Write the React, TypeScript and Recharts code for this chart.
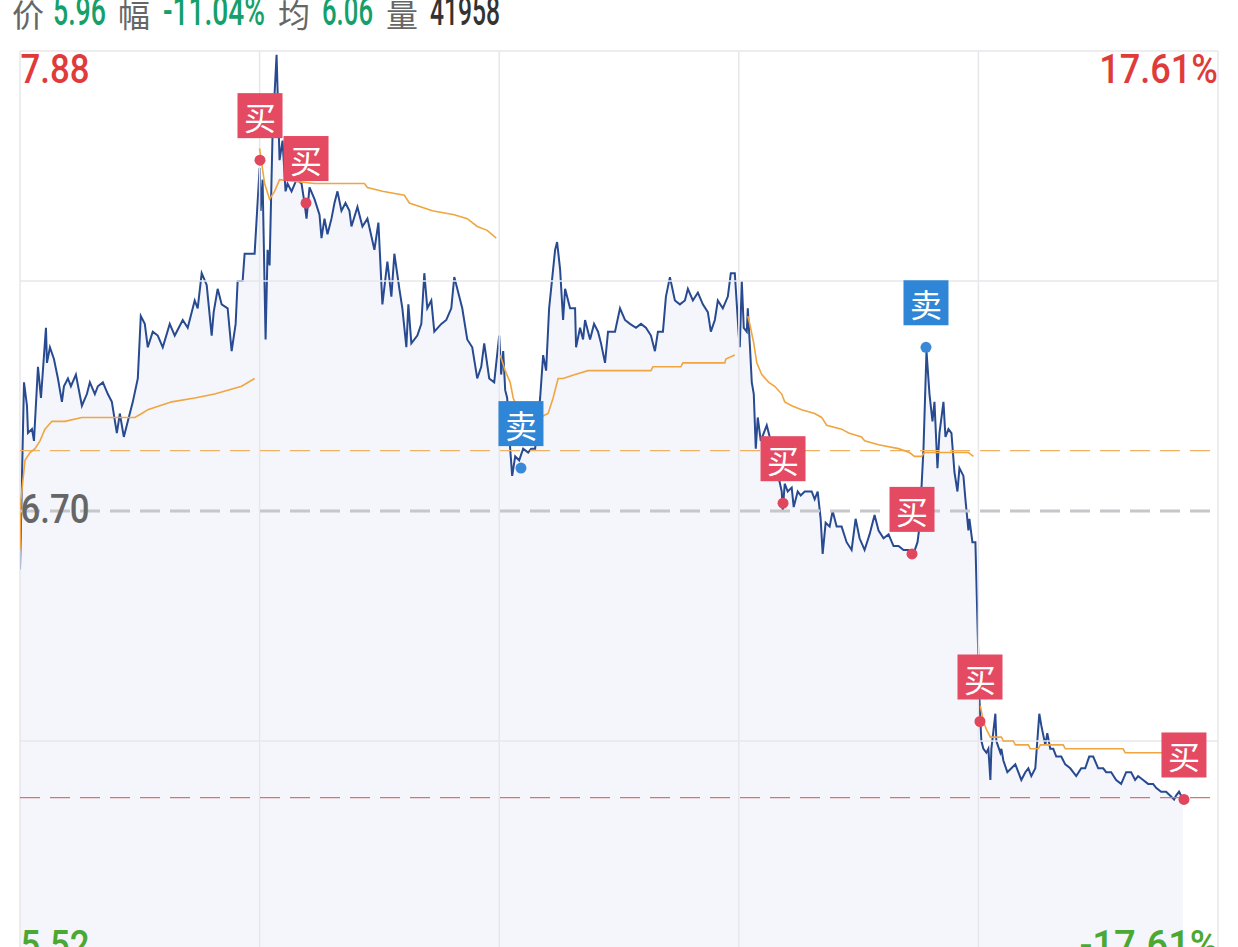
import React from 'react';
import { ComposedChart, Area, Line, Scatter, XAxis, YAxis, ReferenceLine } from 'recharts';

// price scale (prev close in the middle, +-17.61%)
const prevClose = 6.7;
const priceHigh = 7.88;
const priceLow = 5.52;
const lastPrice = 5.965;
const avgRef = 6.855;
const gridPrices = [6.11, 7.29];
const dayLength = 240;
const dayBreaks = [240, 480, 720, 960];

const headerPrice = '5.96';
const headerChange = '-11.04%';
const headerAvg = '6.06';
const headerVolume = '41958';

// [minute of day, price]
const day1Price: [number, number][] = [
  [0, 6.55], [4, 7.03], [7, 6.97], [8, 6.9], [12, 6.91], [14, 6.88], [18, 7.07], [21, 6.99],
  [26, 7.17], [27, 7.08], [30, 7.12], [34, 7.09], [38, 7.04], [42, 6.98], [44, 7.02], [48, 7.04],
  [51, 7.02], [56, 7.05], [62, 6.97], [67, 7.0], [70, 7.03], [75, 7.0], [78, 7.02], [83, 7.03],
  [88, 7.0], [92, 6.98], [97, 6.9], [100, 6.95], [104, 6.89], [108, 6.93], [113, 6.98], [118, 7.04],
  [121, 7.2], [125, 7.18], [128, 7.12], [133, 7.16], [138, 7.15], [143, 7.12], [150, 7.18], [155, 7.15],
  [163, 7.19], [168, 7.17], [175, 7.24], [178, 7.22], [182, 7.31], [187, 7.28], [192, 7.15], [194, 7.21],
  [198, 7.27], [202, 7.23], [208, 7.22], [212, 7.11], [216, 7.18], [218, 7.29], [223, 7.29], [225, 7.36],
  [235, 7.36],
];
const day2Price: [number, number][] = [
  [0, 7.58], [1, 7.47], [3, 7.55], [6, 7.14], [8, 7.37], [10, 7.33], [13, 7.67], [17, 7.87],
  [20, 7.6], [23, 7.65], [26, 7.52], [28, 7.54], [32, 7.52], [37, 7.55], [42, 7.54], [45, 7.49],
  [47, 7.45], [50, 7.53], [55, 7.5], [60, 7.46], [62, 7.4], [65, 7.45], [68, 7.41], [72, 7.45],
  [75, 7.49], [78, 7.52], [82, 7.47], [86, 7.49], [90, 7.47], [92, 7.43], [98, 7.48], [103, 7.43],
  [108, 7.45], [115, 7.37], [119, 7.44], [123, 7.23], [128, 7.34], [132, 7.25], [135, 7.36], [140, 7.27],
  [143, 7.22], [147, 7.12], [149, 7.23], [152, 7.13], [158, 7.15], [162, 7.18], [165, 7.31], [168, 7.22],
  [172, 7.24], [175, 7.16], [182, 7.18], [187, 7.19], [192, 7.22], [195, 7.3], [200, 7.25], [203, 7.22],
  [208, 7.14], [213, 7.12], [218, 7.04], [222, 7.07], [225, 7.13], [230, 7.04], [235, 7.03],
];
const day3Price: [number, number][] = [
  [0, 7.15], [2, 7.05], [4, 7.11], [6, 7.01], [8, 6.99], [11, 6.86], [13, 6.79], [16, 6.84],
  [20, 6.83], [24, 6.86], [29, 6.85], [32, 6.86], [36, 6.86], [41, 6.99], [44, 7.1], [47, 7.06],
  [50, 7.22], [52, 7.27], [56, 7.37], [58, 7.39], [61, 7.32], [64, 7.19], [66, 7.27], [71, 7.22],
  [76, 7.22], [77, 7.12], [81, 7.17], [84, 7.14], [86, 7.19], [91, 7.14], [95, 7.18], [99, 7.16],
  [102, 7.13], [106, 7.08], [109, 7.16], [112, 7.16], [116, 7.16], [121, 7.22], [126, 7.19], [131, 7.18],
  [137, 7.17], [142, 7.18], [147, 7.17], [152, 7.15], [156, 7.11], [159, 7.16], [164, 7.16], [167, 7.25],
  [171, 7.3], [176, 7.24], [181, 7.23], [186, 7.24], [189, 7.27], [194, 7.24], [199, 7.26], [204, 7.23],
  [209, 7.21], [212, 7.16], [216, 7.19], [219, 7.24], [224, 7.22], [229, 7.25], [232, 7.31], [236, 7.31],
];
const day4Price: [number, number][] = [
  [0, 7.15], [1, 7.12], [3, 7.29], [5, 7.17], [8, 7.16], [9, 7.22], [11, 7.13], [13, 7.03],
  [15, 7.0], [17, 6.86], [19, 6.94], [22, 6.88], [25, 6.9], [28, 6.92], [31, 6.89], [37, 6.82],
  [43, 6.75], [44, 6.7], [46, 6.77], [49, 6.75], [53, 6.76], [55, 6.71], [59, 6.75], [62, 6.74],
  [66, 6.75], [69, 6.75], [73, 6.75], [76, 6.73], [79, 6.75], [82, 6.68], [84, 6.59], [87, 6.67],
  [91, 6.66], [94, 6.7], [98, 6.66], [103, 6.66], [108, 6.62], [113, 6.6], [117, 6.68], [121, 6.63],
  [126, 6.6], [131, 6.64], [136, 6.69], [140, 6.65], [145, 6.63], [150, 6.64], [155, 6.61], [160, 6.61],
  [165, 6.6], [170, 6.6], [175, 6.59], [179, 6.62], [181, 6.66], [185, 6.86], [188, 7.11], [191, 7.0],
  [194, 6.93], [196, 6.98], [199, 6.81], [201, 6.9], [205, 6.98], [207, 6.89], [210, 6.91], [213, 6.9],
  [216, 6.8], [219, 6.75], [221, 6.81], [225, 6.79], [227, 6.73], [230, 6.65], [231, 6.68], [234, 6.62],
  [237, 6.62],
];
const day5Price: [number, number][] = [
  [1, 6.22], [2, 6.16], [3, 6.11], [5, 6.09], [8, 6.08], [10, 6.09], [12, 6.01], [13, 6.09],
  [17, 6.18], [18, 6.11], [22, 6.08], [23, 6.09], [25, 6.06], [29, 6.03], [33, 6.04], [37, 6.05],
  [40, 6.03], [43, 6.01], [47, 6.03], [50, 6.04], [53, 6.02], [57, 6.04], [59, 6.11], [61, 6.18],
  [63, 6.15], [67, 6.1], [69, 6.13], [72, 6.09], [75, 6.09], [78, 6.07], [83, 6.07], [87, 6.05],
  [92, 6.04], [98, 6.02], [103, 6.04], [107, 6.04], [111, 6.07], [115, 6.07], [120, 6.04], [125, 6.04],
  [128, 6.03], [133, 6.03], [138, 6.01], [143, 6.0], [148, 6.03], [153, 6.03], [157, 6.01], [160, 6.02],
  [165, 6.01], [170, 6.0], [175, 6.0], [178, 5.99], [183, 5.98], [188, 5.98], [192, 5.97], [196, 5.96],
  [198, 5.97], [201, 5.98], [205, 5.96],
];

// [minute of day, average price]
const day1Avg: [number, number][] = [
  [0, 6.6], [1, 6.73], [5, 6.83], [10, 6.85], [15, 6.86], [20, 6.88], [25, 6.91], [32, 6.93],
  [45, 6.93], [62, 6.94], [115, 6.94], [122, 6.95], [128, 6.96], [152, 6.98], [175, 6.99], [195, 7.0],
  [222, 7.02], [235, 7.04],
];
const day2Avg: [number, number][] = [
  [0, 7.63], [5, 7.54], [10, 7.5], [15, 7.52], [20, 7.55], [55, 7.54], [105, 7.54], [108, 7.53],
  [123, 7.52], [145, 7.51], [150, 7.49], [173, 7.47], [195, 7.46], [208, 7.45], [218, 7.43], [228, 7.42],
  [237, 7.4],
];
const day3Avg: [number, number][] = [
  [1, 7.1], [6, 7.06], [11, 7.03], [14, 6.99], [26, 6.92], [41, 6.94], [49, 6.95], [54, 6.99],
  [59, 7.04], [64, 7.04], [76, 7.05], [89, 7.06], [152, 7.06], [154, 7.07], [182, 7.07], [184, 7.08],
  [226, 7.08], [227, 7.09], [236, 7.1],
];
const day4Avg: [number, number][] = [
  [9, 7.2], [11, 7.18], [15, 7.13], [18, 7.08], [23, 7.05], [30, 7.03], [36, 7.02], [43, 7.0],
  [46, 6.98], [53, 6.97], [63, 6.96], [76, 6.95], [83, 6.94], [88, 6.92], [103, 6.91], [110, 6.9],
  [123, 6.89], [126, 6.88], [140, 6.87], [160, 6.86], [171, 6.85], [176, 6.84], [183, 6.84], [186, 6.85],
  [230, 6.85], [235, 6.84],
];
const day5Avg: [number, number][] = [
  [2, 6.2], [5, 6.16], [8, 6.14], [12, 6.12], [23, 6.12], [25, 6.11], [35, 6.11], [37, 6.1],
  [50, 6.1], [52, 6.09], [60, 6.09], [62, 6.1], [85, 6.1], [87, 6.09], [145, 6.09], [147, 6.08],
  [205, 6.08],
];

// trade signals
const signalTimes = [240.4, 286.5, 501.8, 764.3, 907.5, 893.5, 961.6, 1165.9];
const signalPrices = [7.6, 7.49, 6.81, 6.72, 7.12, 6.59, 6.16, 5.96];
const signalKinds = ['buy', 'buy', 'sell', 'buy', 'sell', 'buy', 'buy', 'buy'];

const priceDays = [day1Price, day2Price, day3Price, day4Price, day5Price];
const avgDays = [day1Avg, day2Avg, day3Avg, day4Avg, day5Avg];

const priceData = priceDays.flatMap((day, i) =>
  day.map(([m, p]) => ({ t: i * dayLength + m, price: p }))
);
const avgData = avgDays.flatMap((day, i) => [
  ...day.map(([m, a]) => ({ t: i * dayLength + m, avg: a as number | null })),
  { t: i * dayLength + 239.5, avg: null },
]);
const signalData = signalTimes.map((t, i) => ({ t, price: signalPrices[i], kind: signalKinds[i] }));

const W = 1238;
const H = 1000;
const numFont = 'Roboto, sans-serif';
const cjkFont = '"Noto Sans CJK SC", sans-serif';
const gridColor = '#e7e7eb';
const upColor = '#e03b3b';
const downColor = '#4ba833';

const pctText = (v: number) => {
  const pct = ((v - prevClose) / prevClose) * 100;
  return `${pct > 0 ? '' : '-'}${Math.abs(pct).toFixed(2)}%`;
};

const SignalMark = (props: any) => {
  const { cx, cy, payload } = props;
  const buy = payload.kind === 'buy';
  const box = buy ? '#e44a62' : '#2f86d6';
  const dot = buy ? '#e0465d' : '#3a89d8';
  return (
    <g>
      <circle cx={cx} cy={cy} r={5.5} fill={dot} />
      <rect x={cx - 22.5} y={cy - 67} width={45} height={45} fill={box} />
      <text x={cx} y={cy - 44} textAnchor="middle" dominantBaseline="central" fill="#fff" fontSize={32} fontFamily={cjkFont}>
        {buy ? '买' : '卖'}
      </text>
    </g>
  );
};

// price on the left edge, percent on the right edge of a horizontal level
const EdgeLabel = (props: any) => {
  const { viewBox, value, place, showPct } = props;
  if (!viewBox) return null;
  const left = viewBox.x;
  const right = viewBox.x + viewBox.width;
  const y = viewBox.y + (place === 'below' ? 32 : place === 'above' ? -12 : 12);
  const fill = value > prevClose ? upColor : value < prevClose ? downColor : '#666';
  const pct = pctText(value);
  return (
    <g>
      <text x={left + 0.5} y={y} fontSize={40} fontWeight={500} fontFamily={numFont} fill={fill} textLength={69} lengthAdjust="spacingAndGlyphs">
        {value.toFixed(2)}
      </text>
      {showPct && (
        <text x={right} y={y} textAnchor="end" fontSize={40} fontWeight={500} fontFamily={numFont} fill={fill} textLength={pct.length * 19.8} lengthAdjust="spacingAndGlyphs">
          {pct}
        </text>
      )}
    </g>
  );
};

export default function App() {
  return (
    <div style={{ position: 'absolute', left: 0, top: 0, width: W, height: 947, overflow: 'hidden', background: '#fff' }}>
      <div style={{ position: 'absolute', left: 0, top: 0 }}>
        <ComposedChart width={W} height={H} margin={{ top: 51, right: 20, bottom: H - 971, left: 20 }}>
          <XAxis type="number" dataKey="t" domain={[0, 1200]} hide allowDataOverflow />
          <YAxis yAxisId="price" type="number" domain={[priceLow, priceHigh]} hide allowDataOverflow />
          <Area
            yAxisId="price"
            data={priceData}
            dataKey="price"
            type="linear"
            stroke="#284a90"
            strokeWidth={2}
            fill="#f4f6fb"
            fillOpacity={1}
            baseValue={priceLow}
            dot={false}
            activeDot={false}
            isAnimationActive={false}
          />
          {gridPrices.map((p) => (
            <ReferenceLine key={p} yAxisId="price" y={p} stroke={gridColor} strokeWidth={1.5} />
          ))}
          {dayBreaks.map((d) => (
            <ReferenceLine key={d} yAxisId="price" x={d} stroke={gridColor} strokeWidth={1.5} />
          ))}
          <ReferenceLine yAxisId="price" x={0} stroke={gridColor} strokeWidth={1.5} />
          <ReferenceLine yAxisId="price" x={1200} stroke={gridColor} strokeWidth={1.5} />
          <ReferenceLine yAxisId="price" y={avgRef} stroke="#efb262" strokeWidth={1.2} strokeDasharray="20 10" />
          <ReferenceLine yAxisId="price" y={lastPrice} stroke="#e07070" strokeWidth={1.2} strokeDasharray="20 10" />
          <Line
            yAxisId="price"
            data={avgData}
            dataKey="avg"
            type="linear"
            stroke="#f0a541"
            strokeWidth={1.6}
            dot={false}
            activeDot={false}
            connectNulls={false}
            isAnimationActive={false}
          />
          <ReferenceLine
            yAxisId="price"
            y={priceHigh}
            stroke={gridColor}
            strokeWidth={1.5}
            label={<EdgeLabel value={priceHigh} place="below" showPct />}
          />
          <ReferenceLine
            yAxisId="price"
            y={prevClose}
            stroke="#c6c6cb"
            strokeWidth={3}
            strokeDasharray="20 10"
            label={<EdgeLabel value={prevClose} place="center" />}
          />
          <ReferenceLine
            yAxisId="price"
            y={priceLow}
            stroke={gridColor}
            strokeWidth={1.5}
            label={<EdgeLabel value={priceLow} place="above" showPct />}
          />
          <Scatter
            yAxisId="price"
            data={signalData}
            dataKey="price"
            shape={<SignalMark />}
            isAnimationActive={false}
          />
        </ComposedChart>
      </div>
      <svg width={W} height={50} style={{ position: 'absolute', left: 0, top: 0 }}>
        <text x={12} y={27} fontSize={32} fontFamily={cjkFont} fill="#666">价</text>
        <text x={53} y={25} fontSize={40} fontWeight={500} fontFamily={numFont} fill="#15a06b" textLength={53} lengthAdjust="spacingAndGlyphs">{headerPrice}</text>
        <text x={118} y={27} fontSize={32} fontFamily={cjkFont} fill="#666">幅</text>
        <text x={163} y={25} fontSize={40} fontWeight={500} fontFamily={numFont} fill="#15a06b" textLength={102} lengthAdjust="spacingAndGlyphs">{headerChange}</text>
        <text x={278} y={27} fontSize={32} fontFamily={cjkFont} fill="#666">均</text>
        <text x={322} y={25} fontSize={40} fontWeight={500} fontFamily={numFont} fill="#15a06b" textLength={51} lengthAdjust="spacingAndGlyphs">{headerAvg}</text>
        <text x={386} y={27} fontSize={32} fontFamily={cjkFont} fill="#666">量</text>
        <text x={430} y={25} fontSize={40} fontWeight={500} fontFamily={numFont} fill="#333" textLength={70} lengthAdjust="spacingAndGlyphs">{headerVolume}</text>
      </svg>
    </div>
  );
}
